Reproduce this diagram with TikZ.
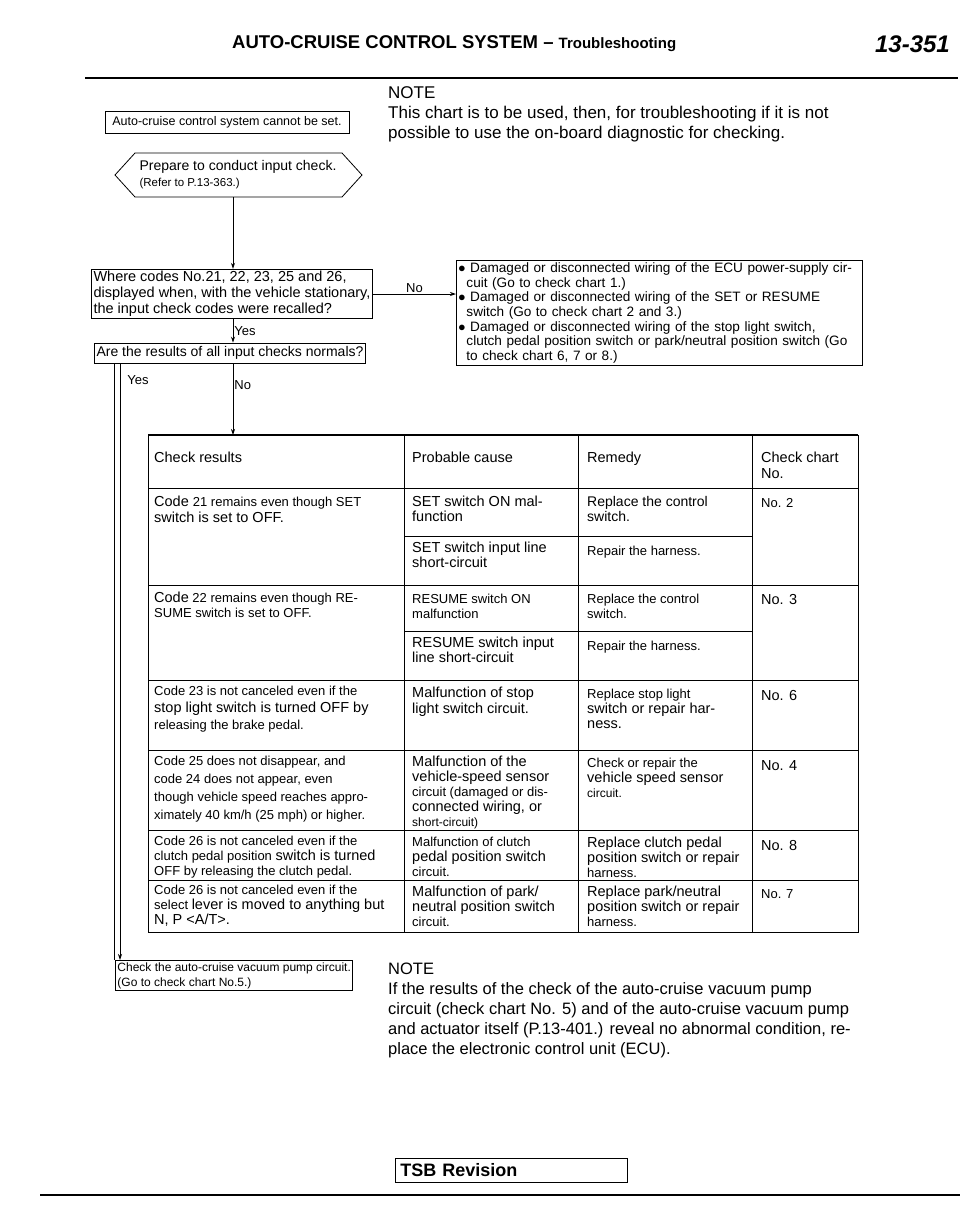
\documentclass[tikz,border=0pt]{standalone}
\usepackage{fontspec}
\setmainfont{Liberation Sans}
\usetikzlibrary{arrows.meta,shapes.geometric}
\newcommand\fz[2]{\fontsize{#1}{#2}\selectfont}
\begin{document}
\begin{tikzpicture}[x=1pt,y=-1pt,
  box/.style={draw,line width=0.9pt,inner sep=2pt},
  arr/.style={-{Stealth[length=6pt,width=4pt]},line width=0.8pt},
  ln/.style={line width=0.8pt},
  t/.style={anchor=north west,inner sep=0,font=\fz{14.5}{15.5},align=left},
  lab/.style={inner sep=1pt,font=\fz{13}{14}}]
\useasboundingbox (0,0) rectangle (960,1221);
% header
\node[anchor=base west,inner sep=0,font=\bfseries\fz{18.5}{19}] (hd) at (232,48) {AUTO-CRUISE CONTROL SYSTEM -- \fz{15}{16}Troubleshooting};
\node[anchor=base east,inner sep=0,font=\bfseries\itshape\fz{24}{24}] (pg) at (950,52) {13-351};
\draw[line width=2pt] (85,78) -- (958,78);
% note top
\node[t,font=\fz{17}{20}] (note1) at (388,86) {NOTE\\This chart is to be used, then, for troubleshooting if it is not\\possible to use the on-board diagnostic for checking.};
% start box
\node[box,font=\fz{12.5}{13},minimum width=244,minimum height=22] (start) at (227,122) {Auto-cruise control system cannot be set.};
% hexagon
\draw[ln] (135,153) -- (115,175) -- (135,197) -- (342,197) -- (362,175) -- (342,153) -- cycle;
\node[font=\fz{14}{16},align=left] (prep) at (238,175) {Prepare to conduct input check.\\{\fz{11.5}{13}(Refer to P.13-363.)}};
\coordinate (hexb) at (233,197);
% decision 1
\node[box,font=\fz{14.5}{16},align=left,minimum width=266,minimum height=48] (d1) at (232,294) {Where codes No.21, 22, 23, 25 and 26,\\displayed when, with the vehicle stationary,\\the input check codes were recalled?};
\draw[arr] (hexb) -- (d1.north -| hexb);
% No box
\node[box,font=\fz{13.6}{14.6},align=left,text width=402,anchor=west] (nobox) at (456,313) {$\bullet$ Damaged or disconnected wiring of the ECU power-supply cir-\\\hspace*{8pt}cuit (Go to check chart 1.)\\$\bullet$ Damaged or disconnected wiring of the SET or RESUME\\\hspace*{8pt}switch (Go to check chart 2 and 3.)\\$\bullet$ Damaged or disconnected wiring of the stop light switch,\\\hspace*{8pt}clutch pedal position switch or park/neutral position switch (Go\\\hspace*{8pt}to check chart 6, 7 or 8.)};
\draw[arr] (d1.east) -- (nobox.west |- d1.east) node[lab,midway,above] {No};
% decision 2
\node[box,font=\fz{14}{15},minimum width=262,minimum height=20] (d2) at (230,353) {Are the results of all input checks normals?};
\draw[arr] (d1.south -| hexb) -- (d2.north -| hexb) node[lab,midway,right] {Yes};
% table
\def\L{148}\def\A{404}\def\B{578}\def\C{752}\def\R{858}
\coordinate (ttop) at (233,435);
\draw[arr] (d2.south -| hexb) -- (ttop) node[lab,pos=0.3,right] {No};
\draw[line width=1.2pt] (\L,435) -- (\R,435);
\draw[ln] (\L,435) -- (\L,932) -- (\R,932) -- (\R,435);
\foreach \x in {\A,\B,\C} \draw[ln] (\x,435) -- (\x,932);
\foreach \y in {488,585,680,750,830,880} \draw[ln] (\L,\y) -- (\R,\y);
\draw[ln] (\A,536) -- (\C,536);
\draw[ln] (\A,631) -- (\C,631);
% header row
\node[t] (h1) at (\L+6,452) {Check results};
\node[t] (h2) at (\A+8,452) {Probable cause};
\node[t] (h3) at (\B+9,452) {Remedy};
\node[t] (h4) at (\C+9,452) {Check chart\\No.};
% row 21
\node[t,font=\fz{14.5}{16}] (r1a) at (\L+6,496) {Code {\fz{13}{15}21 remains even though SET}\\switch is set to OFF.};
\node[t,font=\fz{14.5}{15}] (r1b) at (\A+8,496) {SET switch ON mal-\\function};
\node[t,font=\fz{14}{15}] (r1c) at (\B+9,496) {Replace the control\\switch.};
\node[t,font=\fz{13}{14}] (r1d) at (\C+9,498) {No. 2};
\node[t,font=\fz{14.5}{15}] (r1e) at (\A+8,542) {SET switch input line\\short-circuit};
\node[t,font=\fz{13}{14}] (r1f) at (\B+9,546) {Repair the harness.};
% row 22
\node[t,font=\fz{13}{15}] (r2a) at (\L+6,592) {{\fz{14.5}{15}Code} 22 remains even though RE-\\SUME switch is set to OFF.};
\node[t,font=\fz{13}{15}] (r2b) at (\A+8,594) {RESUME switch ON\\malfunction};
\node[t,font=\fz{13}{15}] (r2c) at (\B+9,594) {Replace the control\\switch.};
\node[t] (r2d) at (\C+9,594) {No. 3};
\node[t,font=\fz{14.5}{15}] (r2e) at (\A+8,637) {RESUME switch input\\line short-circuit};
\node[t,font=\fz{13}{14}] (r2f) at (\B+9,641) {Repair the harness.};
% row 23
\node[t,font=\fz{13}{17}] (r3a) at (\L+6,686) {Code 23 is not canceled even if the\\{\fz{14.5}{15}stop light switch is turned OFF by}\\releasing the brake pedal.};
\node[t,font=\fz{14.5}{15.5}] (r3b) at (\A+8,687) {Malfunction of stop\\light switch circuit.};
\node[t,font=\fz{14.5}{15}] (r3c) at (\B+9,689) {{\fz{13}{14}Replace stop light}\\switch or repair har-\\ness.};
\node[t] (r3d) at (\C+9,690) {No. 6};
% row 25
\node[t,font=\fz{13}{18}] (r4a) at (\L+6,756) {Code 25 does not disappear, and\\code 24 does not appear, even\\though vehicle speed reaches appro-\\ximately 40 km/h (25 mph) or higher.};
\node[t,font=\fz{14.5}{15}] (r4b) at (\A+8,756) {Malfunction of the\\vehicle-speed sensor\\{\fz{13}{15}circuit (damaged or dis-}\\connected wiring, or\\{\fz{12}{13}short-circuit)}};
\node[t,font=\fz{14.5}{15}] (r4c) at (\B+9,758) {{\fz{13}{14}Check or repair the}\\vehicle speed sensor\\{\fz{12}{13}circuit.}};
\node[t] (r4d) at (\C+9,760) {No. 4};
% row 26a
\node[t,font=\fz{13}{15}] (r5a) at (\L+6,836) {Code 26 is not canceled even if the\\clutch pedal position {\fz{14.5}{15}switch is turned}\\OFF by releasing the clutch pedal.};
\node[t,font=\fz{14.5}{15}] (r5b) at (\A+8,837) {{\fz{13}{14}Malfunction of clutch}\\pedal position switch\\{\fz{13}{12}circuit.}};
\node[t,font=\fz{14.5}{15}] (r5c) at (\B+9,837) {Replace clutch pedal\\position switch or repair\\{\fz{13}{12}harness.}};
\node[t] (r5d) at (\C+9,840) {No. 8};
% row 26b
\node[t,font=\fz{13}{15}] (r6a) at (\L+6,885) {Code 26 is not canceled even if the\\select {\fz{14.5}{15}lever is moved to anything but}\\{\fz{14.5}{15}N, P <A/T>.}};
\node[t,font=\fz{14.5}{15}] (r6b) at (\A+8,886) {Malfunction of park/\\neutral position switch\\{\fz{13}{12}circuit.}};
\node[t,font=\fz{14.5}{15}] (r6c) at (\B+9,886) {Replace park/neutral\\position switch or repair\\{\fz{13}{12}harness.}};
\node[t,font=\fz{13}{14}] (r6d) at (\C+9,889) {No. 7};
% vacuum box
\node[box,font=\fz{12}{15},align=left,anchor=north west,minimum width=218] (vac) at (115,960) {Check the auto-cruise vacuum pump circuit.\\(Go to check chart No.5.)};
\coordinate (ys) at (120,364);
\draw[arr] (ys) -- (vac.north -| ys);
\node[lab] (yes2) at (138,380) {Yes};
\draw[ln] (114,364) -- (114,960);
% note bottom
\node[t,font=\fz{16.5}{20}] (note2) at (388,963) {NOTE\\If the results of the check of the auto-cruise vacuum pump\\circuit (check chart No. 5) and of the auto-cruise vacuum pump\\and actuator itself (P.13-401.) reveal no abnormal condition, re-\\place the electronic control unit (ECU).};
% footer
\node[box,font=\bfseries\fz{18}{19},minimum width=232,minimum height=24,anchor=west,align=left,text width=222] (tsb) at (395,1170) {TSB Revision};
\draw[line width=1.2pt] (40,1195) -- (960,1195);
\end{tikzpicture}
\end{document}
